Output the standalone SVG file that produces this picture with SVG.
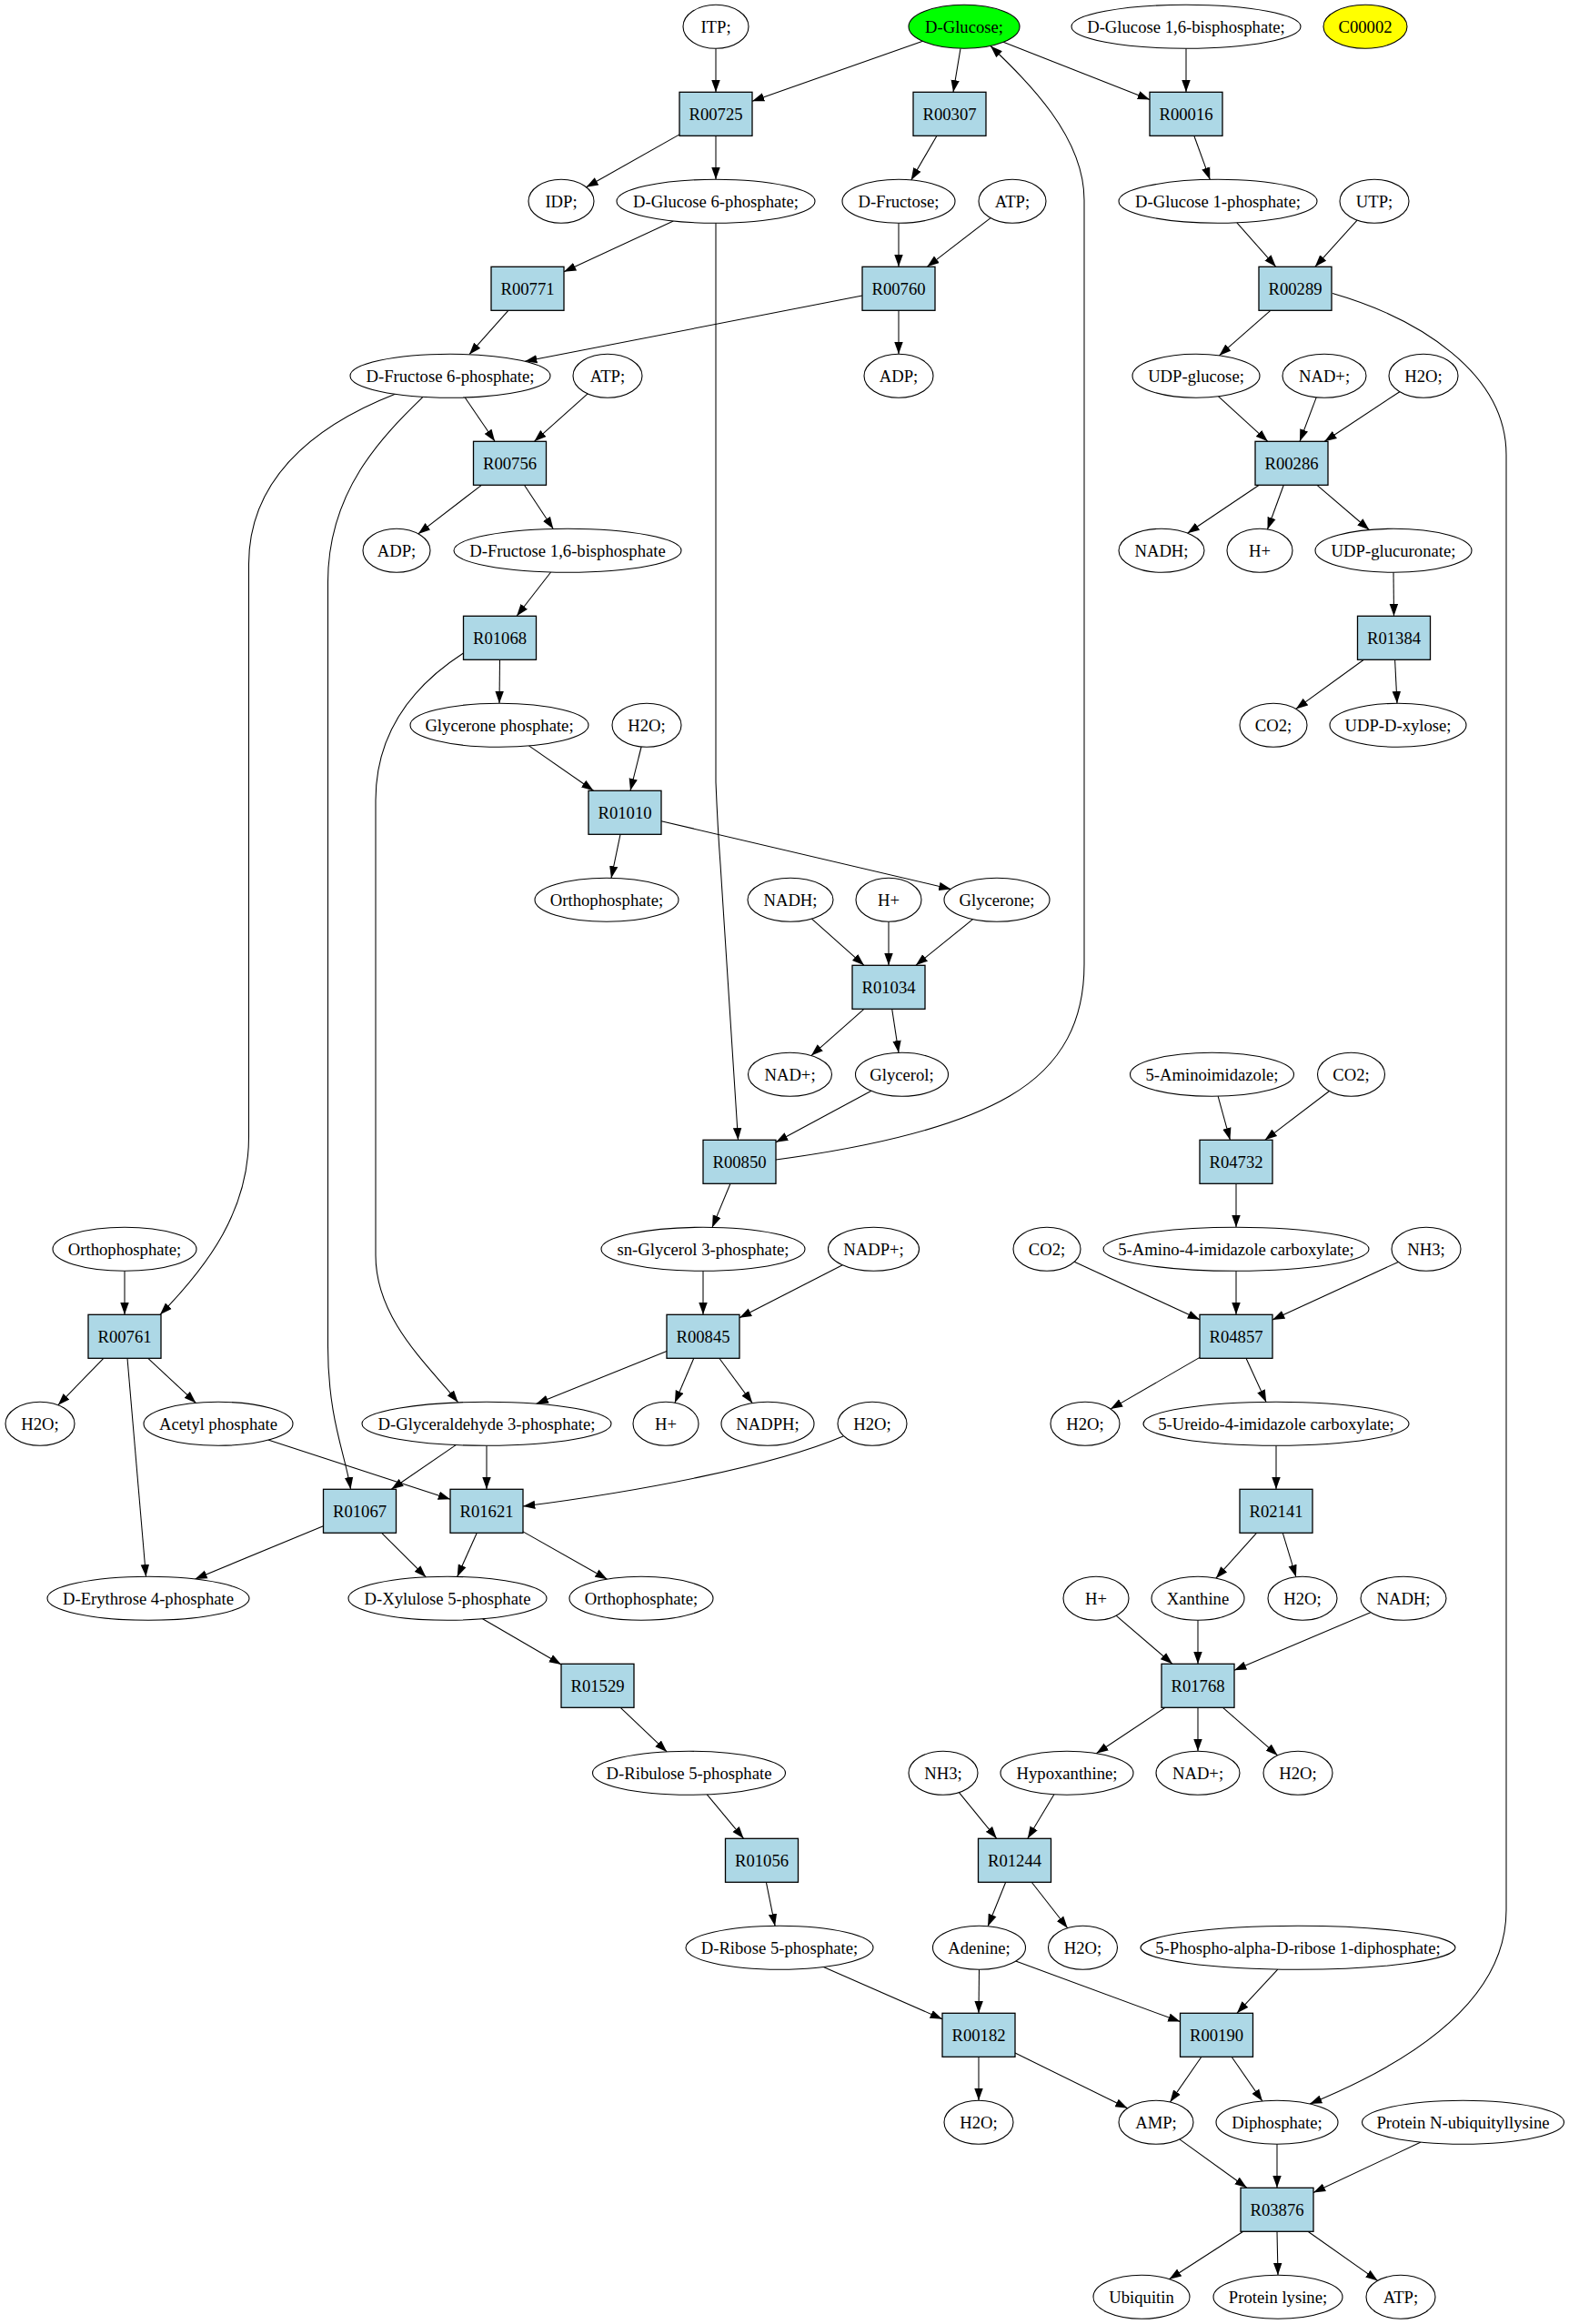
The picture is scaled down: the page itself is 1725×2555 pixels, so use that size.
<svg xmlns="http://www.w3.org/2000/svg" width="1725" height="2555" viewBox="0 0 1725 2555">
<defs>
<marker id="ah" markerUnits="userSpaceOnUse" markerWidth="14" markerHeight="10" viewBox="0 0 14 10" refX="13.3" refY="5" orient="auto">
<path d="M0,0.3 L13.3,5 L0,9.7 z" fill="#000"/>
</marker>
</defs>
<style>
.e ellipse{fill:#fff;stroke:#000;stroke-width:1.1}
.r rect{fill:#add8e6;stroke:#000;stroke-width:1.3}
text{font-family:"Liberation Serif","Times New Roman",serif;font-size:18.67px;text-anchor:middle;fill:#000}
#edges path{fill:none;stroke:#000;stroke-width:1.05;marker-end:url(#ah)}
</style>
<rect width="1725" height="2555" fill="#fff"/>
<g id="edges">
<path d="M787,53.3 L787,101.3"/>
<path d="M1014.5,45.3 L827,111.2"/>
<path d="M1056,53.3 L1048,101.3"/>
<path d="M1103.1,46.3 L1264,109.6"/>
<path d="M1304,53.3 L1304,101.3"/>
<path d="M747,147.9 L644.5,205.8"/>
<path d="M787,149.3 L787,197.3"/>
<path d="M1030,149.3 L1001.7,197.9"/>
<path d="M1312.8,149.3 L1330.3,197.4"/>
<path d="M740.3,243 L620,298.8"/>
<path d="M787,245.3 L787,860 Q789,910 792,950 L811.5,1253.3"/>
<path d="M988,245.3 L988,293.3"/>
<path d="M1089.1,239.6 L1019.3,293.3"/>
<path d="M1359.9,244.9 L1402.8,293.3"/>
<path d="M1492.1,242.1 L1445.8,293.3"/>
<path d="M558.8,341.3 L515.9,389.7"/>
<path d="M948,325.1 L577.1,397.3"/>
<path d="M988,341.3 L988,389.3"/>
<path d="M1396.8,341.3 L1340.4,390.9"/>
<path d="M1465,322.5 C1560,350 1656,410 1656,500 L1656,2100 C1656,2200 1550,2268 1440,2313"/>
<path d="M511.2,437 L544.1,485.3"/>
<path d="M646.1,432.9 L587.4,485.3"/>
<path d="M435,433 C340,470 273.5,530 273.5,620 L273.5,1250 C273.5,1330 230,1390 176,1445.3"/>
<path d="M465,436.4 C420,480 360.5,540 360.5,640 L360.5,1480 C360.5,1560 380,1600 385.5,1637.3"/>
<path d="M1339.6,435.8 L1393.8,485.3"/>
<path d="M1447.2,436.9 L1429,485.3"/>
<path d="M1538.8,430.7 L1456.3,485.3"/>
<path d="M529.4,533.3 L459.8,586.9"/>
<path d="M576.4,533.3 L608.3,581.5"/>
<path d="M1384.3,533.3 L1305.5,586.2"/>
<path d="M1411.3,533.3 L1393.5,582"/>
<path d="M1448,533.3 L1505.4,582.5"/>
<path d="M605.6,629 L568.1,677.3"/>
<path d="M1532,629.3 L1532.5,677.3"/>
<path d="M549.5,725.3 L549,773.3"/>
<path d="M509.5,718 C460,750 413,800 413,880 L413,1380 C413,1450 470,1500 503.6,1541.7"/>
<path d="M1499.4,725.3 L1424.7,779.4"/>
<path d="M1533.6,725.3 L1536,773.3"/>
<path d="M581.5,819.9 L652.5,869.3"/>
<path d="M705.1,821 L693,869.3"/>
<path d="M682,917.3 L672,965.4"/>
<path d="M727,902.7 L1045.5,977.5"/>
<path d="M892.4,1010.1 L950,1061.3"/>
<path d="M977,1013.3 L977,1061.3"/>
<path d="M1069.5,1010.7 L1006.8,1061.3"/>
<path d="M949.9,1109.3 L891.9,1160.6"/>
<path d="M980.7,1109.3 L988,1157.3"/>
<path d="M958,1199.3 L853,1255.8"/>
<path d="M853,1275 C950,1262 1050,1240 1110,1205 C1170,1170 1192,1120 1192,1060 L1192,220 C1192,150 1130,90 1089,50.5"/>
<path d="M1339.1,1205.2 L1352.4,1253.3"/>
<path d="M1461.5,1199.5 L1390.7,1253.3"/>
<path d="M803,1301.3 L783,1349.4"/>
<path d="M1359,1301.3 L1359,1349.3"/>
<path d="M137,1397.3 L137,1445.3"/>
<path d="M773,1397.3 L773,1445.3"/>
<path d="M926.3,1390.8 L813,1448.8"/>
<path d="M1181.2,1387.2 L1319,1450.8"/>
<path d="M1359,1397.3 L1359,1445.3"/>
<path d="M1537.3,1387.4 L1399,1450.9"/>
<path d="M113.8,1493.3 L63.8,1544.8"/>
<path d="M162.8,1493.3 L215.4,1542.4"/>
<path d="M140,1493.3 L160.5,1733.3"/>
<path d="M733,1485.4 L589.6,1543.3"/>
<path d="M762.8,1493.3 L741.9,1542.2"/>
<path d="M790.8,1493.3 L827.2,1542.6"/>
<path d="M1319,1492.4 L1221,1549.1"/>
<path d="M1370,1493.3 L1392.1,1541.4"/>
<path d="M294.8,1583.1 L495,1648.3"/>
<path d="M501.2,1588.6 L430.3,1637.3"/>
<path d="M535,1589.3 L535,1637.3"/>
<path d="M927,1579 C850,1612 700,1640 575,1656"/>
<path d="M1403,1589.3 L1403,1637.3"/>
<path d="M355.4,1677.8 L214.5,1736"/>
<path d="M419.6,1685.3 L468.4,1733.9"/>
<path d="M524.3,1685.3 L502.7,1733.4"/>
<path d="M575,1683.9 L667.6,1736.2"/>
<path d="M1381.5,1685.3 L1336.8,1735.2"/>
<path d="M1410.3,1685.3 L1424.9,1733.7"/>
<path d="M530.6,1779.7 L617,1830"/>
<path d="M1227.1,1776.2 L1289,1829.3"/>
<path d="M1317,1781.3 L1317,1829.3"/>
<path d="M1506.8,1772.7 L1357,1836.3"/>
<path d="M682.2,1877.3 L733.2,1925.9"/>
<path d="M1281,1877.3 L1205.3,1927.8"/>
<path d="M1317,1877.3 L1317,1925.3"/>
<path d="M1344.5,1877.3 L1404.7,1929.9"/>
<path d="M777.3,1972.9 L817.6,2021.3"/>
<path d="M1054.4,1970.6 L1095.8,2021.3"/>
<path d="M1158.9,1972.8 L1129.8,2021.3"/>
<path d="M842.4,2069.3 L852.1,2117.4"/>
<path d="M1105.7,2069.3 L1086.1,2117.7"/>
<path d="M1134.2,2069.3 L1173.7,2119.8"/>
<path d="M905.4,2162.5 L1036,2219.8"/>
<path d="M1076.5,2165.3 L1076,2213.3"/>
<path d="M1116.7,2156.1 L1297.5,2222.6"/>
<path d="M1404.8,2165.1 L1359.9,2213.3"/>
<path d="M1076,2261.3 L1076,2309.3"/>
<path d="M1116,2257 L1239.6,2317.8"/>
<path d="M1320.9,2261.3 L1286.4,2311.1"/>
<path d="M1354.1,2261.3 L1387.9,2310"/>
<path d="M1296.8,2351.9 L1370.8,2405.3"/>
<path d="M1404,2357.3 L1404,2405.3"/>
<path d="M1562.1,2355.1 L1444,2410.5"/>
<path d="M1366.8,2453.3 L1285.5,2505.7"/>
<path d="M1404,2453.3 L1405,2501.3"/>
<path d="M1438,2453.3 L1514.7,2507.4"/>
</g>
<g id="n_itp" class="e"><ellipse cx="787" cy="29.3" rx="36" ry="24"/><text x="787" y="35.8">ITP;</text></g>
<g id="n_dglucose" class="e"><ellipse cx="1060" cy="29.3" rx="61" ry="24" style="fill:#00ff00"/><text x="1060" y="35.8">D-Glucose;</text></g>
<g id="n_dglc16bp" class="e"><ellipse cx="1304" cy="29.3" rx="126" ry="24"/><text x="1304" y="35.8">D-Glucose 1,6-bisphosphate;</text></g>
<g id="n_c00002" class="e"><ellipse cx="1501" cy="29.3" rx="46" ry="24" style="fill:#ffff00"/><text x="1501" y="35.8">C00002</text></g>
<g id="R00725" class="r"><rect x="747" y="101.3" width="80" height="48"/><text x="787" y="131.8">R00725</text></g>
<g id="R00307" class="r"><rect x="1004" y="101.3" width="80" height="48"/><text x="1044" y="131.8">R00307</text></g>
<g id="R00016" class="r"><rect x="1264" y="101.3" width="80" height="48"/><text x="1304" y="131.8">R00016</text></g>
<g id="n_idp" class="e"><ellipse cx="617" cy="221.3" rx="36" ry="24"/><text x="617" y="227.8">IDP;</text></g>
<g id="n_g6p" class="e"><ellipse cx="787" cy="221.3" rx="109" ry="24"/><text x="787" y="227.8">D-Glucose 6-phosphate;</text></g>
<g id="n_fru" class="e"><ellipse cx="988" cy="221.3" rx="62" ry="24"/><text x="988" y="227.8">D-Fructose;</text></g>
<g id="n_atp1" class="e"><ellipse cx="1113" cy="221.3" rx="37" ry="24"/><text x="1113" y="227.8">ATP;</text></g>
<g id="n_g1p" class="e"><ellipse cx="1339" cy="221.3" rx="109" ry="24"/><text x="1339" y="227.8">D-Glucose 1-phosphate;</text></g>
<g id="n_utp" class="e"><ellipse cx="1511" cy="221.3" rx="38" ry="24"/><text x="1511" y="227.8">UTP;</text></g>
<g id="R00771" class="r"><rect x="540" y="293.3" width="80" height="48"/><text x="580" y="323.8">R00771</text></g>
<g id="R00760" class="r"><rect x="948" y="293.3" width="80" height="48"/><text x="988" y="323.8">R00760</text></g>
<g id="R00289" class="r"><rect x="1384" y="293.3" width="80" height="48"/><text x="1424" y="323.8">R00289</text></g>
<g id="n_f6p" class="e"><ellipse cx="495" cy="413.3" rx="110" ry="24"/><text x="495" y="419.8">D-Fructose 6-phosphate;</text></g>
<g id="n_atp2" class="e"><ellipse cx="668" cy="413.3" rx="38" ry="24"/><text x="668" y="419.8">ATP;</text></g>
<g id="n_adp1" class="e"><ellipse cx="988" cy="413.3" rx="38" ry="24"/><text x="988" y="419.8">ADP;</text></g>
<g id="n_udpglc" class="e"><ellipse cx="1315" cy="413.3" rx="70" ry="24"/><text x="1315" y="419.8">UDP-glucose;</text></g>
<g id="n_nad1" class="e"><ellipse cx="1456" cy="413.3" rx="46" ry="24"/><text x="1456" y="419.8">NAD+;</text></g>
<g id="n_h2o1" class="e"><ellipse cx="1565" cy="413.3" rx="38" ry="24"/><text x="1565" y="419.8">H2O;</text></g>
<g id="R00756" class="r"><rect x="520.5" y="485.3" width="80" height="48"/><text x="560.5" y="515.8">R00756</text></g>
<g id="R00286" class="r"><rect x="1380" y="485.3" width="80" height="48"/><text x="1420" y="515.8">R00286</text></g>
<g id="n_adp2" class="e"><ellipse cx="436" cy="605.3" rx="37" ry="24"/><text x="436" y="611.8">ADP;</text></g>
<g id="n_f16bp" class="e"><ellipse cx="624" cy="605.3" rx="125" ry="24"/><text x="624" y="611.8">D-Fructose 1,6-bisphosphate</text></g>
<g id="n_nadh1" class="e"><ellipse cx="1277" cy="605.3" rx="47" ry="24"/><text x="1277" y="611.8">NADH;</text></g>
<g id="n_h1" class="e"><ellipse cx="1385" cy="605.3" rx="36" ry="24"/><text x="1385" y="611.8">H+</text></g>
<g id="n_udpgla" class="e"><ellipse cx="1532" cy="605.3" rx="86" ry="24"/><text x="1532" y="611.8">UDP-glucuronate;</text></g>
<g id="R01068" class="r"><rect x="509.5" y="677.3" width="80" height="48"/><text x="549.5" y="707.8">R01068</text></g>
<g id="R01384" class="r"><rect x="1492.5" y="677.3" width="80" height="48"/><text x="1532.5" y="707.8">R01384</text></g>
<g id="n_gnp" class="e"><ellipse cx="549" cy="797.3" rx="98" ry="24"/><text x="549" y="803.8">Glycerone phosphate;</text></g>
<g id="n_h2o2" class="e"><ellipse cx="711" cy="797.3" rx="38" ry="24"/><text x="711" y="803.8">H2O;</text></g>
<g id="n_co2_1" class="e"><ellipse cx="1400" cy="797.3" rx="37" ry="24"/><text x="1400" y="803.8">CO2;</text></g>
<g id="n_udpxyl" class="e"><ellipse cx="1537" cy="797.3" rx="75" ry="24"/><text x="1537" y="803.8">UDP-D-xylose;</text></g>
<g id="R01010" class="r"><rect x="647" y="869.3" width="80" height="48"/><text x="687" y="899.8">R01010</text></g>
<g id="n_pi1" class="e"><ellipse cx="667" cy="989.3" rx="79" ry="24"/><text x="667" y="995.8">Orthophosphate;</text></g>
<g id="n_nadh2" class="e"><ellipse cx="869" cy="989.3" rx="47" ry="24"/><text x="869" y="995.8">NADH;</text></g>
<g id="n_h2" class="e"><ellipse cx="977" cy="989.3" rx="36" ry="24"/><text x="977" y="995.8">H+</text></g>
<g id="n_glycerone" class="e"><ellipse cx="1096" cy="989.3" rx="58" ry="24"/><text x="1096" y="995.8">Glycerone;</text></g>
<g id="R01034" class="r"><rect x="937" y="1061.3" width="80" height="48"/><text x="977" y="1091.8">R01034</text></g>
<g id="n_nad2" class="e"><ellipse cx="868.5" cy="1181.3" rx="46" ry="24"/><text x="868.5" y="1187.8">NAD+;</text></g>
<g id="n_glycerol" class="e"><ellipse cx="991.5" cy="1181.3" rx="51" ry="24"/><text x="991.5" y="1187.8">Glycerol;</text></g>
<g id="n_aminoimid" class="e"><ellipse cx="1332.5" cy="1181.3" rx="90" ry="24"/><text x="1332.5" y="1187.8">5-Aminoimidazole;</text></g>
<g id="n_co2_2" class="e"><ellipse cx="1485.5" cy="1181.3" rx="37" ry="24"/><text x="1485.5" y="1187.8">CO2;</text></g>
<g id="R00850" class="r"><rect x="773" y="1253.3" width="80" height="48"/><text x="813" y="1283.8">R00850</text></g>
<g id="R04732" class="r"><rect x="1319" y="1253.3" width="80" height="48"/><text x="1359" y="1283.8">R04732</text></g>
<g id="n_pi2" class="e"><ellipse cx="137" cy="1373.3" rx="79" ry="24"/><text x="137" y="1379.8">Orthophosphate;</text></g>
<g id="n_g3p" class="e"><ellipse cx="773" cy="1373.3" rx="112" ry="24"/><text x="773" y="1379.8">sn-Glycerol 3-phosphate;</text></g>
<g id="n_nadp" class="e"><ellipse cx="960.5" cy="1373.3" rx="50" ry="24"/><text x="960.5" y="1379.8">NADP+;</text></g>
<g id="n_co2_3" class="e"><ellipse cx="1151" cy="1373.3" rx="37" ry="24"/><text x="1151" y="1379.8">CO2;</text></g>
<g id="n_aica" class="e"><ellipse cx="1359" cy="1373.3" rx="146" ry="24"/><text x="1359" y="1379.8">5-Amino-4-imidazole carboxylate;</text></g>
<g id="n_nh3_1" class="e"><ellipse cx="1568" cy="1373.3" rx="38" ry="24"/><text x="1568" y="1379.8">NH3;</text></g>
<g id="R00761" class="r"><rect x="97" y="1445.3" width="80" height="48"/><text x="137" y="1475.8">R00761</text></g>
<g id="R00845" class="r"><rect x="733" y="1445.3" width="80" height="48"/><text x="773" y="1475.8">R00845</text></g>
<g id="R04857" class="r"><rect x="1319" y="1445.3" width="80" height="48"/><text x="1359" y="1475.8">R04857</text></g>
<g id="n_h2o3" class="e"><ellipse cx="44" cy="1565.3" rx="38" ry="24"/><text x="44" y="1571.8">H2O;</text></g>
<g id="n_acp" class="e"><ellipse cx="240" cy="1565.3" rx="82" ry="24"/><text x="240" y="1571.8">Acetyl phosphate</text></g>
<g id="n_gap" class="e"><ellipse cx="535" cy="1565.3" rx="137" ry="24"/><text x="535" y="1571.8">D-Glyceraldehyde 3-phosphate;</text></g>
<g id="n_h3" class="e"><ellipse cx="732" cy="1565.3" rx="36" ry="24"/><text x="732" y="1571.8">H+</text></g>
<g id="n_nadph" class="e"><ellipse cx="844" cy="1565.3" rx="51" ry="24"/><text x="844" y="1571.8">NADPH;</text></g>
<g id="n_h2o4" class="e"><ellipse cx="959" cy="1565.3" rx="38" ry="24"/><text x="959" y="1571.8">H2O;</text></g>
<g id="n_h2o5" class="e"><ellipse cx="1193" cy="1565.3" rx="38" ry="24"/><text x="1193" y="1571.8">H2O;</text></g>
<g id="n_ureido" class="e"><ellipse cx="1403" cy="1565.3" rx="146" ry="24"/><text x="1403" y="1571.8">5-Ureido-4-imidazole carboxylate;</text></g>
<g id="R01067" class="r"><rect x="355.5" y="1637.3" width="80" height="48"/><text x="395.5" y="1667.8">R01067</text></g>
<g id="R01621" class="r"><rect x="495" y="1637.3" width="80" height="48"/><text x="535" y="1667.8">R01621</text></g>
<g id="R02141" class="r"><rect x="1363" y="1637.3" width="80" height="48"/><text x="1403" y="1667.8">R02141</text></g>
<g id="n_e4p" class="e"><ellipse cx="163" cy="1757.3" rx="111" ry="24"/><text x="163" y="1763.8">D-Erythrose 4-phosphate</text></g>
<g id="n_xu5p" class="e"><ellipse cx="492" cy="1757.3" rx="109" ry="24"/><text x="492" y="1763.8">D-Xylulose 5-phosphate</text></g>
<g id="n_pi3" class="e"><ellipse cx="705" cy="1757.3" rx="79" ry="24"/><text x="705" y="1763.8">Orthophosphate;</text></g>
<g id="n_h4" class="e"><ellipse cx="1205" cy="1757.3" rx="36" ry="24"/><text x="1205" y="1763.8">H+</text></g>
<g id="n_xanthine" class="e"><ellipse cx="1317" cy="1757.3" rx="51" ry="24"/><text x="1317" y="1763.8">Xanthine</text></g>
<g id="n_h2o6" class="e"><ellipse cx="1432" cy="1757.3" rx="38" ry="24"/><text x="1432" y="1763.8">H2O;</text></g>
<g id="n_nadh3" class="e"><ellipse cx="1543" cy="1757.3" rx="47" ry="24"/><text x="1543" y="1763.8">NADH;</text></g>
<g id="R01529" class="r"><rect x="617" y="1829.3" width="80" height="48"/><text x="657" y="1859.8">R01529</text></g>
<g id="R01768" class="r"><rect x="1277" y="1829.3" width="80" height="48"/><text x="1317" y="1859.8">R01768</text></g>
<g id="n_ru5p" class="e"><ellipse cx="757.5" cy="1949.3" rx="106" ry="24"/><text x="757.5" y="1955.8">D-Ribulose 5-phosphate</text></g>
<g id="n_nh3_2" class="e"><ellipse cx="1037" cy="1949.3" rx="38" ry="24"/><text x="1037" y="1955.8">NH3;</text></g>
<g id="n_hypox" class="e"><ellipse cx="1173" cy="1949.3" rx="73" ry="24"/><text x="1173" y="1955.8">Hypoxanthine;</text></g>
<g id="n_nad3" class="e"><ellipse cx="1317" cy="1949.3" rx="46" ry="24"/><text x="1317" y="1955.8">NAD+;</text></g>
<g id="n_h2o7" class="e"><ellipse cx="1427" cy="1949.3" rx="38" ry="24"/><text x="1427" y="1955.8">H2O;</text></g>
<g id="R01056" class="r"><rect x="797.5" y="2021.3" width="80" height="48"/><text x="837.5" y="2051.8">R01056</text></g>
<g id="R01244" class="r"><rect x="1075.5" y="2021.3" width="80" height="48"/><text x="1115.5" y="2051.8">R01244</text></g>
<g id="n_r5p" class="e"><ellipse cx="857" cy="2141.3" rx="103" ry="24"/><text x="857" y="2147.8">D-Ribose 5-phosphate;</text></g>
<g id="n_adenine" class="e"><ellipse cx="1076.5" cy="2141.3" rx="51" ry="24"/><text x="1076.5" y="2147.8">Adenine;</text></g>
<g id="n_h2o8" class="e"><ellipse cx="1190.5" cy="2141.3" rx="38" ry="24"/><text x="1190.5" y="2147.8">H2O;</text></g>
<g id="n_prpp" class="e"><ellipse cx="1427" cy="2141.3" rx="173" ry="24"/><text x="1427" y="2147.8">5-Phospho-alpha-D-ribose 1-diphosphate;</text></g>
<g id="R00182" class="r"><rect x="1036" y="2213.3" width="80" height="48"/><text x="1076" y="2243.8">R00182</text></g>
<g id="R00190" class="r"><rect x="1297.5" y="2213.3" width="80" height="48"/><text x="1337.5" y="2243.8">R00190</text></g>
<g id="n_h2o9" class="e"><ellipse cx="1076" cy="2333.3" rx="38" ry="24"/><text x="1076" y="2339.8">H2O;</text></g>
<g id="n_amp" class="e"><ellipse cx="1271" cy="2333.3" rx="41" ry="24"/><text x="1271" y="2339.8">AMP;</text></g>
<g id="n_ppi" class="e"><ellipse cx="1404" cy="2333.3" rx="67" ry="24"/><text x="1404" y="2339.8">Diphosphate;</text></g>
<g id="n_protubq" class="e"><ellipse cx="1608.5" cy="2333.3" rx="111" ry="24"/><text x="1608.5" y="2339.8">Protein N-ubiquityllysine</text></g>
<g id="R03876" class="r"><rect x="1364" y="2405.3" width="80" height="48"/><text x="1404" y="2435.8">R03876</text></g>
<g id="n_ubq" class="e"><ellipse cx="1255" cy="2525.3" rx="53" ry="24"/><text x="1255" y="2531.8">Ubiquitin</text></g>
<g id="n_protlys" class="e"><ellipse cx="1405" cy="2525.3" rx="71" ry="24"/><text x="1405" y="2531.8">Protein lysine;</text></g>
<g id="n_atp3" class="e"><ellipse cx="1540" cy="2525.3" rx="38" ry="24"/><text x="1540" y="2531.8">ATP;</text></g>
</svg>
